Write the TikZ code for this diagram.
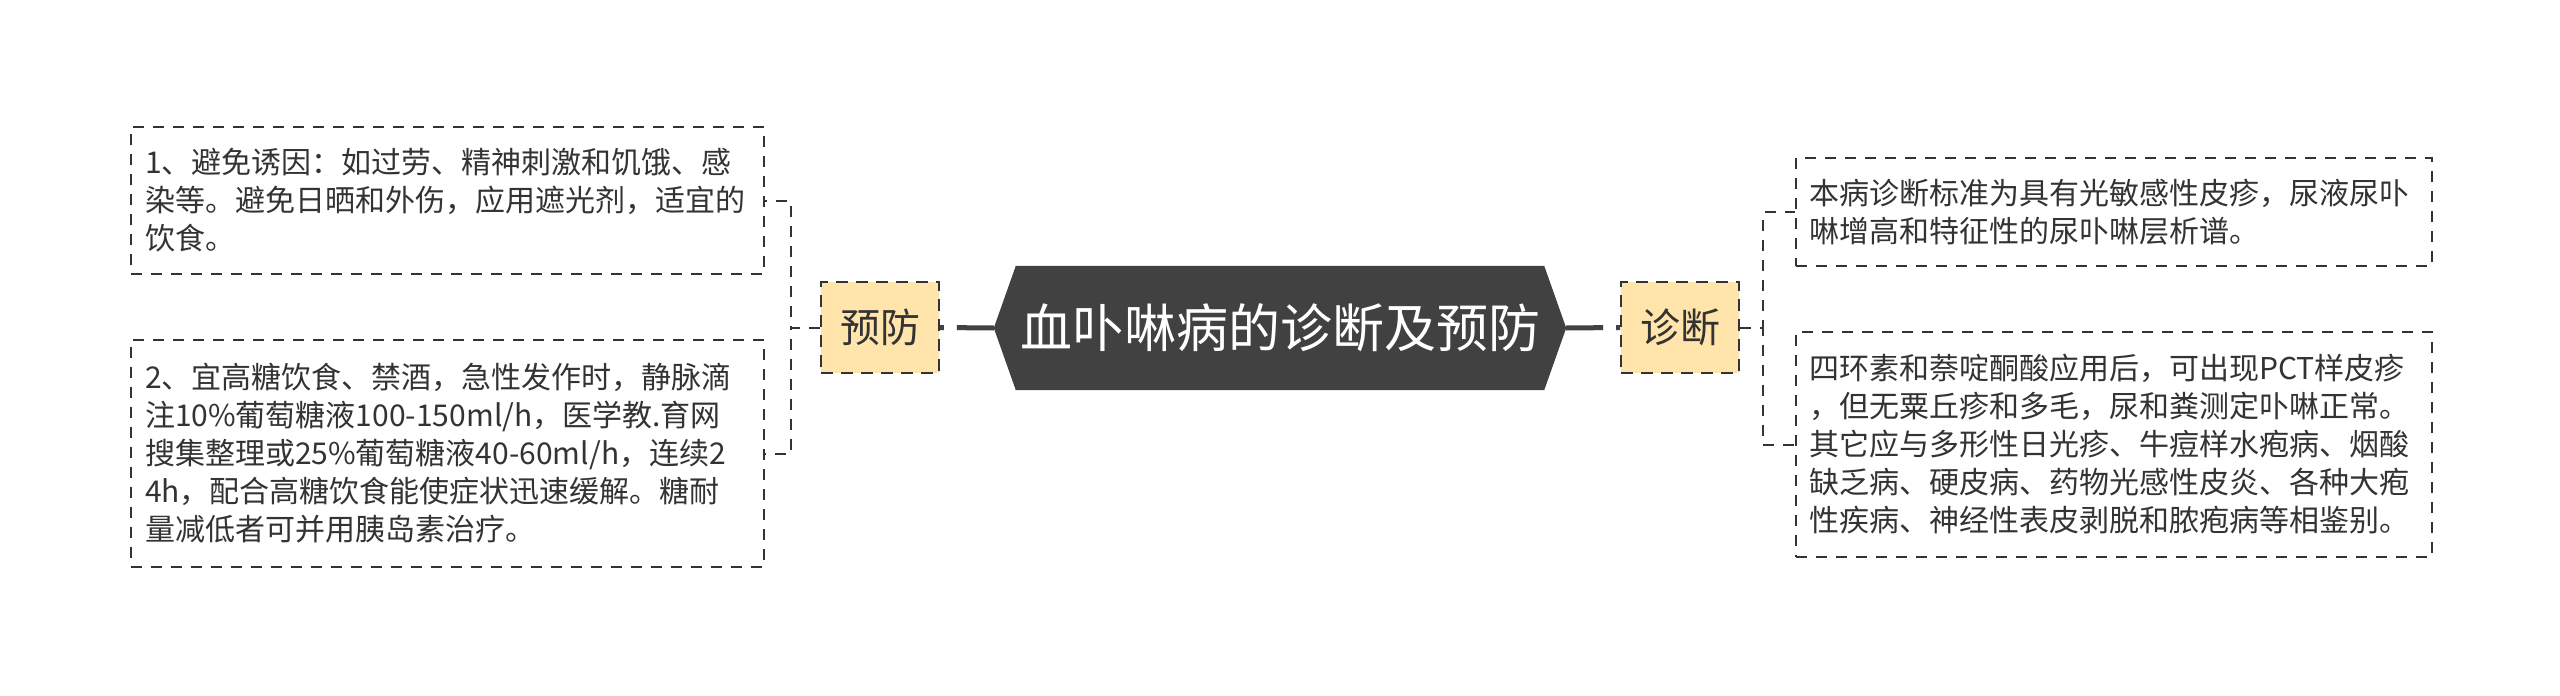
\documentclass[tikz,border=0pt]{standalone}
\usepackage{fontspec}
\setmainfont{Noto Sans CJK SC}
\usetikzlibrary{backgrounds}
\definecolor{linec}{HTML}{333333}
\definecolor{txt}{HTML}{333333}
\definecolor{hexc}{HTML}{414141}
\definecolor{yel}{HTML}{FFE5AB}
\begin{document}
\begin{tikzpicture}[x=1pt,y=-1pt,
  leaf/.style={draw=linec, line width=2pt, dash pattern=on 11pt off 9pt, fill=white,
    inner xsep=14pt, inner ysep=0pt, text width=605pt, align=left,
    font=\fontsize{30}{38}\selectfont, text=txt},
  rleaf/.style={leaf, inner xsep=13pt, text width=610pt},
  cat/.style={draw=linec, line width=2pt, dash pattern=on 12pt off 8pt, fill=yel,
    minimum width=118pt, minimum height=91pt, inner sep=0pt,
    font=\fontsize{40}{48}\selectfont, text=txt},
  link/.style={draw=linec, line width=2pt, dash pattern=on 11pt off 9pt},
  trunk/.style={draw=hexc, line width=5pt, dash pattern=on 37pt off 13pt},
  titlebox/.style={font=\fontsize{52}{60}\selectfont, text=white,
    minimum width=572pt, minimum height=124pt, inner sep=0pt}]
\useasboundingbox (0,0) rectangle (2560,696);
% central topic
\node[titlebox] (title) at (1280,328) {血卟啉病的诊断及预防};
\begin{scope}[on background layer]
  \fill[white] (0,0) rectangle (2560,696);
  \fill[hexc] (title.west) -- ([xshift=22pt]title.north west) -- ([xshift=-22pt]title.north east)
    -- (title.east) -- ([xshift=-22pt]title.south east) -- ([xshift=22pt]title.south west) -- cycle;
\end{scope}
% main branches
\node[cat] (yf) at (880,327.5) {预防};
\node[cat] (zd) at (1680,327.5) {诊断};
\draw[trunk] (title.west) -- (yf.east);
\draw[trunk] (title.east) -- (zd.west);
% left leaves
\node[leaf, minimum height=147pt] (p1) at (447.5,200.5)
  {1、避免诱因：如过劳、精神刺激和饥饿、感\\染等。避免日晒和外伤，应用遮光剂，适宜的\\饮食。};
\node[leaf, minimum height=227pt] (p2) at (447.5,453.5)
  {2、宜高糖饮食、禁酒，急性发作时，静脉滴\\注10\%葡萄糖液100-150ml/h，医学教.育网\\搜集整理或25\%葡萄糖液40-60ml/h，连续2\\4h，配合高糖饮食能使症状迅速缓解。糖耐\\量减低者可并用胰岛素治疗。};
% right leaves
\node[rleaf, minimum height=108pt] (d1) at (2114,212)
  {本病诊断标准为具有光敏感性皮疹，尿液尿卟\\啉增高和特征性的尿卟啉层析谱。};
\node[rleaf, minimum height=225pt] (d2) at (2114,444.5)
  {四环素和萘啶酮酸应用后，可出现PCT样皮疹\\，但无粟丘疹和多毛，尿和粪测定卟啉正常。\\其它应与多形性日光疹、牛痘样水疱病、烟酸\\缺乏病、硬皮病、药物光感性皮炎、各种大疱\\性疾病、神经性表皮剥脱和脓疱病等相鉴别。};
% connectors
\draw[link] (yf.west) -- ++(-29,0) |- (p1.east);
\draw[link] (yf.west) -- ++(-29,0) |- (p2.east);
\draw[link] (zd.east) -- ++(23,0) |- (d1.west);
\draw[link] (zd.east) -- ++(23,0) |- (d2.west);
\end{tikzpicture}
\end{document}
